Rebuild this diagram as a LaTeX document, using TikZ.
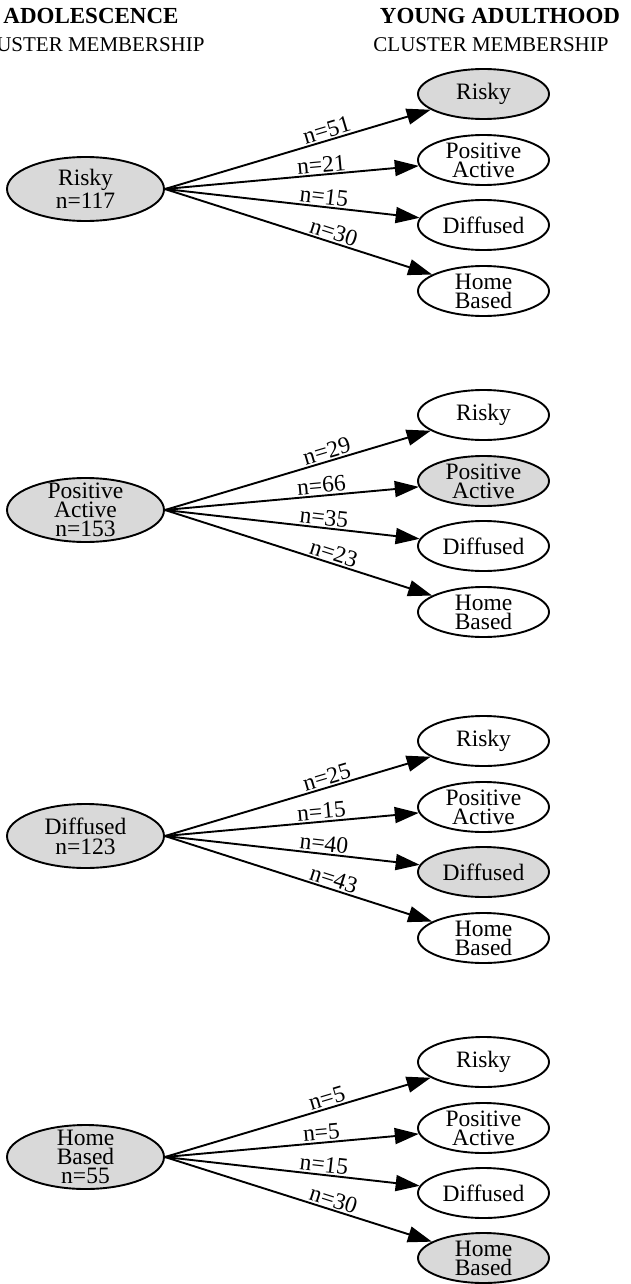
\documentclass[tikz,border=0pt]{standalone}
\usepackage{fontspec}
\setmainfont{Liberation Serif}
\usetikzlibrary{shapes.geometric,arrows.meta}
\definecolor{nodegray}{RGB}{217,217,217}
\begin{document}
\begin{tikzpicture}[x=1pt,y=-1pt,
  txt/.style={font=\fontsize{23.5}{19}\selectfont,align=center,inner sep=0pt},
  srcnode/.style={ellipse,draw=black,line width=1.9pt,fill=nodegray,minimum width=157pt,minimum height=64pt,inner sep=0pt},
  tgtnode/.style={ellipse,draw=black,line width=1.9pt,fill=white,minimum width=131pt,minimum height=50pt,inner sep=0pt},
  hit/.style={fill=nodegray},
  flow/.style={line width=1.9pt,-{Triangle[length=24pt,width=16pt]}},
  cnt/.style={font=\fontsize{23.5}{23.5}\selectfont,sloped,above,pos=0.62,inner sep=1.5pt},
  head/.style={font=\fontsize{23}{23}\selectfont\bfseries,anchor=base},
  subhead/.style={font=\fontsize{21}{21}\selectfont,anchor=base}]
\useasboundingbox (0,0) rectangle (630,1284);
\clip (0,0) rectangle (630,1284);

% headers
\node[head] (hA) at (91,24) {ADOLESCENCE};
\node[head] (hY) at (500,24) {YOUNG ADULTHOOD};
\node[subhead] (cA) at (87,52) {CLUSTER MEMBERSHIP};
\node[subhead] (cY) at (491,52) {CLUSTER MEMBERSHIP};

% ---------- group 1 : Risky ----------
\node[srcnode,label={[txt,name=s1t]center:{Risky\\[2pt]n=117}}] (s1) at (85.5,189) {};
\node[tgtnode,hit,label={[txt,name=t11t]center:Risky}] (t11) at (483.5,94) {};
\node[tgtnode,label={[txt,name=t12t]center:{Positive\\Active}}] (t12) at (483.5,160) {};
\node[tgtnode,label={[txt,name=t13t]center:Diffused}] (t13) at (483.5,225) {};
\node[tgtnode,label={[txt,name=t14t]center:{Home\\Based}}] (t14) at (483.5,291) {};
\draw[flow] (s1.east) -- node[cnt] (e11) {n=51} (t11);
\draw[flow] (s1.east) -- node[cnt] (e12) {n=21} (t12);
\draw[flow] (s1.east) -- node[cnt] (e13) {n=15} (t13);
\draw[flow] (s1.east) -- node[cnt] (e14) {n=30} (t14);

% ---------- group 2 : Positive Active ----------
\node[srcnode,label={[txt,name=s2t]center:{Positive\\Active\\n=153}}] (s2) at (85.5,510) {};
\node[tgtnode,label={[txt,name=t21t]center:Risky}] (t21) at (483.5,415) {};
\node[tgtnode,hit,label={[txt,name=t22t]center:{Positive\\Active}}] (t22) at (483.5,481) {};
\node[tgtnode,label={[txt,name=t23t]center:Diffused}] (t23) at (483.5,546) {};
\node[tgtnode,label={[txt,name=t24t]center:{Home\\Based}}] (t24) at (483.5,612) {};
\draw[flow] (s2.east) -- node[cnt] (e21) {n=29} (t21);
\draw[flow] (s2.east) -- node[cnt] (e22) {n=66} (t22);
\draw[flow] (s2.east) -- node[cnt] (e23) {n=35} (t23);
\draw[flow] (s2.east) -- node[cnt] (e24) {n=23} (t24);

% ---------- group 3 : Diffused ----------
\node[srcnode,label={[txt,name=s3t]center:{Diffused\\[1pt]n=123}}] (s3) at (85.5,836) {};
\node[tgtnode,label={[txt,name=t31t]center:Risky}] (t31) at (483.5,741) {};
\node[tgtnode,label={[txt,name=t32t]center:{Positive\\Active}}] (t32) at (483.5,807) {};
\node[tgtnode,hit,label={[txt,name=t33t]center:Diffused}] (t33) at (483.5,872) {};
\node[tgtnode,label={[txt,name=t34t]center:{Home\\Based}}] (t34) at (483.5,938) {};
\draw[flow] (s3.east) -- node[cnt] (e31) {n=25} (t31);
\draw[flow] (s3.east) -- node[cnt] (e32) {n=15} (t32);
\draw[flow] (s3.east) -- node[cnt] (e33) {n=40} (t33);
\draw[flow] (s3.east) -- node[cnt] (e34) {n=43} (t34);

% ---------- group 4 : Home Based ----------
\node[srcnode,label={[txt,name=s4t]center:{Home\\Based\\n=55}}] (s4) at (85.5,1157) {};
\node[tgtnode,label={[txt,name=t41t]center:Risky}] (t41) at (483.5,1062) {};
\node[tgtnode,label={[txt,name=t42t]center:{Positive\\Active}}] (t42) at (483.5,1128) {};
\node[tgtnode,label={[txt,name=t43t]center:Diffused}] (t43) at (483.5,1193) {};
\node[tgtnode,hit,label={[txt,name=t44t]center:{Home\\Based}}] (t44) at (483.5,1258) {};
\draw[flow] (s4.east) -- node[cnt] (e41) {n=5} (t41);
\draw[flow] (s4.east) -- node[cnt] (e42) {n=5} (t42);
\draw[flow] (s4.east) -- node[cnt] (e43) {n=15} (t43);
\draw[flow] (s4.east) -- node[cnt] (e44) {n=30} (t44);
\end{tikzpicture}
\end{document}
